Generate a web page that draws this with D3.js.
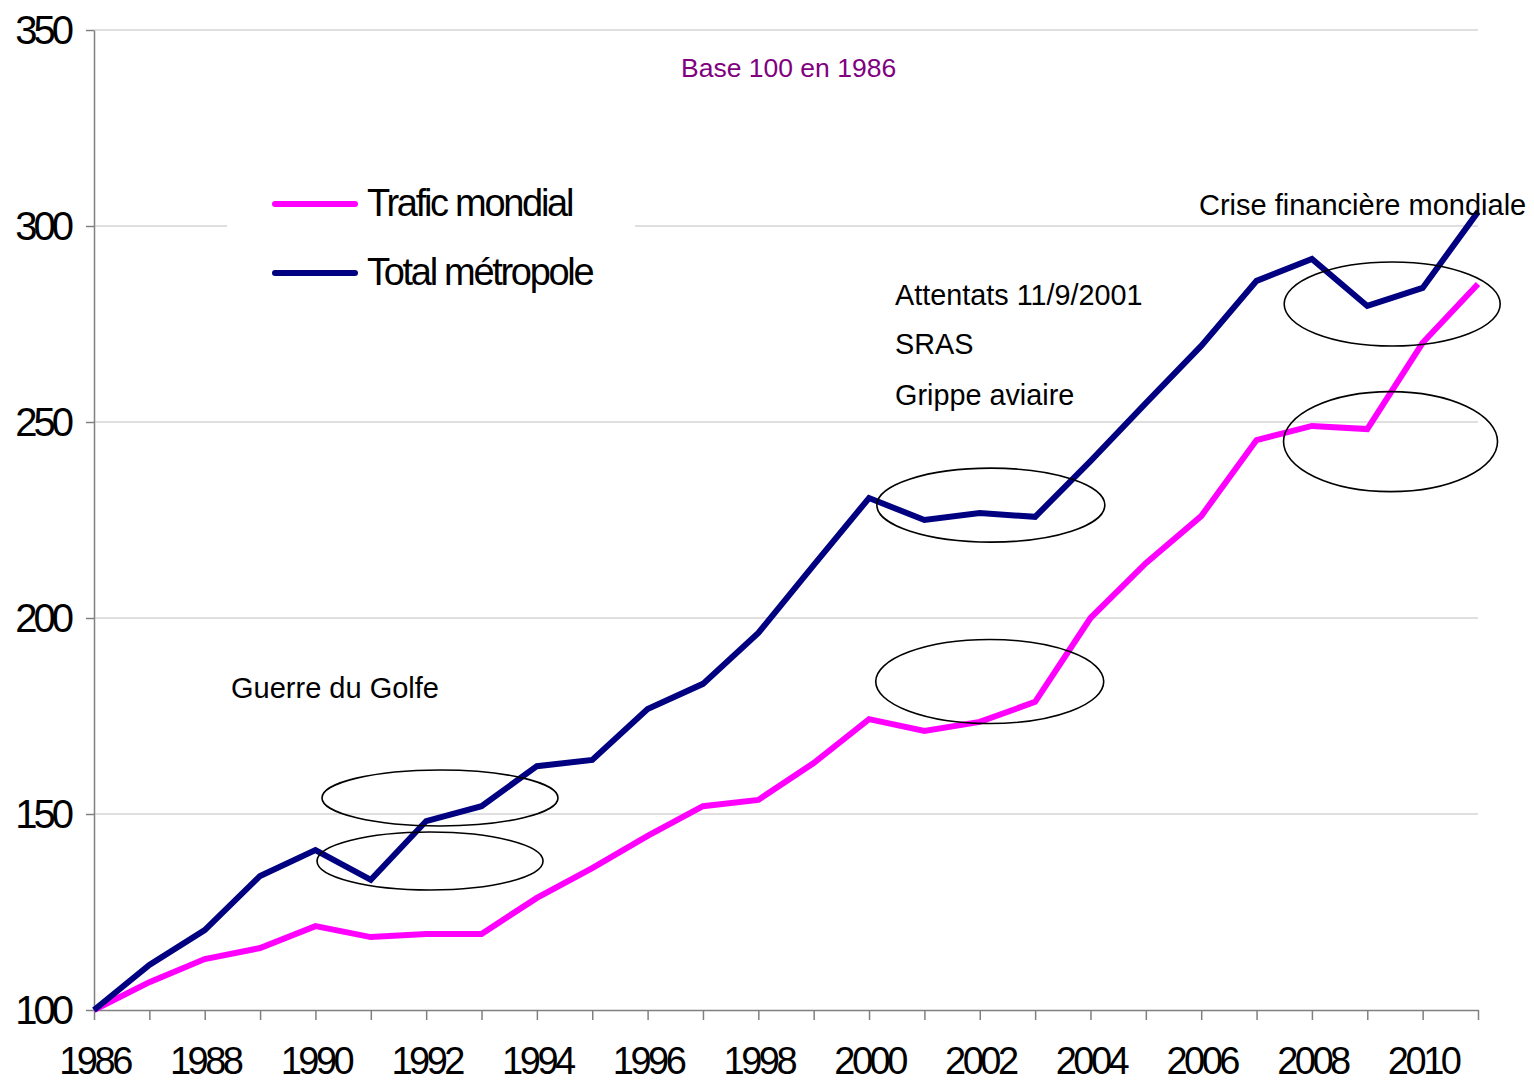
<!DOCTYPE html>
<html>
<head>
<meta charset="utf-8">
<script src="https://cdn.jsdelivr.net/npm/d3@7"></script>
<style>
  body { margin: 0; background: #fff; }
  svg { display: block; font-family: "Liberation Sans", Arial, sans-serif; }
  .grid line { stroke: #c0c0c0; stroke-width: 1; }
  .axis path, .axis line { stroke: #808080; stroke-width: 1.5; }
  .axis text { fill: #000; }
</style>
</head>
<body>
<svg class="chart"></svg>
<script>
// years on the x axis
let years = d3.range(1986, 2012);
let yTicks = [100, 150, 200, 250, 300, 350];
let xLabels = [1986, 1988, 1990, 1992, 1994, 1996, 1998, 2000, 2002, 2004, 2006, 2008, 2010];

// base 100 en 1986
let traficMondial = [100, 107.1, 113, 115.8, 121.4, 118.6, 119.4, 119.4, 128.6, 136.2, 144.4, 152, 153.6,
  163, 174.2, 171.2, 173.5, 178.6, 200, 214, 226, 245.4, 249, 248.2, 270.2, 285.2];
let totalMetropole = [100, 111.5, 120.4, 134.2, 140.8, 133.2, 148.2, 152, 162.2, 163.8, 176.8, 183.2, 196.2,
  213.5, 230.6, 225, 226.8, 225.8, 240, 254.8, 269.4, 286, 291.6, 279.6, 284.2, 303.6];

let series = [
  {name: 'Trafic mondial', values: traficMondial, color: '#ff00ff'},
  {name: 'Total métropole', values: totalMetropole, color: '#000080'}
];

let width = 1534, height = 1082;
let mLeft = 94, mRight = 1478, mTop = 30, mBottom = 1010;

let svg = d3.select(".chart").attr("width", width).attr("height", height);

let x = d3.scaleLinear().domain([1986, 2011]).range([mLeft, mRight]);
let y = d3.scaleLinear().domain([100, 350]).range([mBottom, mTop]);

// grid
svg.append("g")
  .attr("class", "grid")
  .selectAll("line")
  .data(yTicks.slice(1))
  .enter().append("line")
  .attr("x1", mLeft).attr("x2", mRight)
  .attr("y1", d => y(d)).attr("y2", d => y(d));

// axes
svg.append("g")
  .attr("class", "axis")
  .attr("transform", "translate(" + mLeft + ",0)")
  .call(d3.axisLeft(y).tickValues(yTicks).tickSize(8).tickSizeOuter(0).tickPadding(16))
  .selectAll("text")
  .style("font-size", "40px")
  .style("letter-spacing", "-4px")
  .attr("dy", "0.34em");

let xAxis = svg.append("g")
  .attr("class", "axis")
  .attr("transform", "translate(0," + mBottom + ")")
  .call(d3.axisBottom(x).tickValues(years).tickSize(10).tickSizeOuter(0).tickFormat(d => xLabels.includes(d) ? d : ""));
xAxis.selectAll("text")
  .style("font-size", "38px")
  .style("letter-spacing", "-3.5px")
  .attr("y", 64)
  .attr("dy", 0)
  .attr("dx", "0px");

// lines
let line = d3.line()
  .x((d, i) => x(years[i]))
  .y(d => y(d));

svg.selectAll(".serie")
  .data(series)
  .enter().append("path")
  .attr("class", "serie")
  .attr("fill", "none")
  .attr("stroke", d => d.color)
  .attr("stroke-width", 6)
  .attr("stroke-linejoin", "miter")
  .attr("d", d => line(d.values));

// ellipses round the events (centre in data units, radii in px)
let ellipses = [
  {year: 1992.25, value: 154.1, rx: 118, ry: 28},
  {year: 1992.07, value: 138, rx: 113, ry: 29},
  {year: 2002.2, value: 228.8, rx: 114, ry: 37},
  {year: 2002.18, value: 183.8, rx: 114, ry: 42},
  {year: 2009.45, value: 280.1, rx: 108, ry: 42},
  {year: 2009.42, value: 245, rx: 107, ry: 50}
];

svg.selectAll(".ring")
  .data(ellipses)
  .enter().append("ellipse")
  .attr("class", "ring")
  .attr("cx", d => x(d.year))
  .attr("cy", d => y(d.value))
  .attr("rx", d => d.rx)
  .attr("ry", d => d.ry)
  .attr("fill", "none")
  .attr("stroke", "#000")
  .attr("stroke-width", 1.6);

// legend
let legend = svg.append("g").attr("transform", "translate(227,165)");
legend.append("rect").attr("width", 408).attr("height", 135).attr("fill", "#fff");
let item = legend.selectAll(".item")
  .data(series)
  .enter().append("g")
  .attr("transform", (d, i) => "translate(0," + (39 + i * 69) + ")");
item.append("line")
  .attr("x1", 48).attr("x2", 128)
  .attr("stroke", d => d.color)
  .attr("stroke-width", 6)
  .attr("stroke-linecap", "round");
item.append("text")
  .attr("x", 140)
  .attr("y", 12)
  .style("font-size", "38px")
  .style("letter-spacing", "-2.3px")
  .text(d => d.name);

// annotations
let notes = [
  {text: 'Base 100 en 1986', x: 681, y: 77, size: 26.5, color: '#800080'},
  {text: 'Attentats 11/9/2001', x: 895, y: 305, size: 28.8, color: '#000'},
  {text: 'SRAS', x: 895, y: 354, size: 28.8, color: '#000'},
  {text: 'Grippe aviaire', x: 895, y: 405, size: 28.8, color: '#000'},
  {text: 'Crise financière mondiale', x: 1199, y: 215, size: 29, color: '#000'},
  {text: 'Guerre du Golfe', x: 231, y: 698, size: 29, color: '#000'}
];
svg.selectAll(".note")
  .data(notes)
  .enter().append("text")
  .attr("class", "note")
  .attr("x", d => d.x)
  .attr("y", d => d.y)
  .attr("fill", d => d.color)
  .style("font-size", d => d.size + "px")
  .text(d => d.text);
</script>
</body>
</html>
